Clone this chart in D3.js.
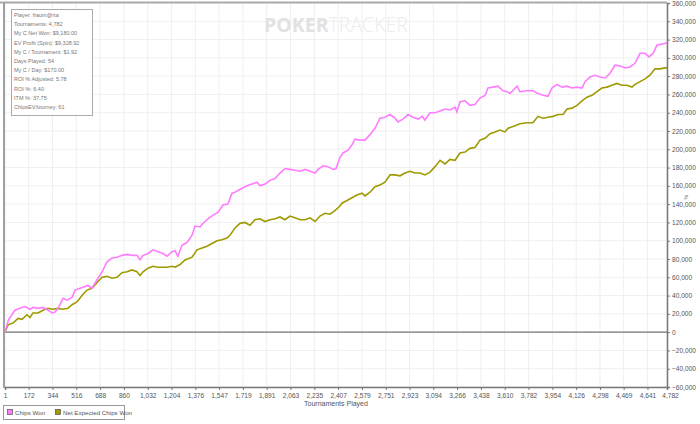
<!DOCTYPE html>
<html>
<head>
<meta charset="utf-8">
<script src="https://cdn.jsdelivr.net/npm/d3@7"></script>
<style>
  body { margin: 0; background: #fff; }
  svg { display: block; font-family: "Liberation Sans", Arial, sans-serif; }
</style>
</head>
<body>
<div id="chart"></div>
<script>
// tournament number / cumulative chips (thousands)
var chipsWonT = [1, 25, 37, 73, 109, 145, 182, 203, 239, 275, 312, 340, 362, 384, 420, 449, 485, 507, 543, 564, 600, 629, 665, 702, 738, 774, 810, 846, 882, 918, 954, 976, 998, 1034, 1070, 1106, 1142, 1171, 1207, 1229, 1250, 1279, 1315, 1352, 1373, 1409, 1431, 1467, 1503, 1539, 1575, 1611, 1640, 1662, 1684, 1720, 1749, 1785, 1821, 1843, 1879, 1915, 1951, 1987, 2023, 2059, 2095, 2132, 2168, 2204, 2240, 2262, 2298, 2334, 2370, 2392, 2420, 2442, 2478, 2507, 2529, 2565, 2601, 2637, 2673, 2709, 2745, 2782, 2818, 2839, 2875, 2911, 2948, 2984, 3013, 3034, 3070, 3107, 3143, 3179, 3215, 3251, 3265, 3287, 3323, 3359, 3395, 3431, 3468, 3489, 3525, 3561, 3598, 3627, 3648, 3699, 3720, 3771, 3814, 3850, 3887, 3923, 3951, 3987, 4024, 4060, 4096, 4132, 4168, 4190, 4226, 4262, 4298, 4334, 4370, 4406, 4443, 4479, 4515, 4551, 4587, 4623, 4652, 4681, 4710, 4746, 4767, 4782];
var chipsWon = [0, 13, 16, 24, 26, 28, 25, 27, 26, 27, 24, 21, 22, 26, 37, 35, 38, 46, 48, 49, 51, 48, 57, 66, 77, 81, 82, 84, 85, 84, 84, 79, 84, 86, 90, 88, 86, 83, 88, 89, 83, 95, 98, 106, 116, 115, 119, 124, 128, 131, 139, 140, 152, 153, 155, 158, 160, 162, 164, 160, 162, 166, 168, 174, 179, 178, 177, 176, 178, 176, 174, 178, 182, 181, 178, 179, 191, 196, 199, 205, 211, 210, 210, 216, 223, 234, 235, 238, 234, 230, 233, 238, 235, 233, 236, 232, 240, 240, 242, 244, 243, 246, 241, 252, 253, 248, 249, 256, 259, 267, 268, 269, 264, 263, 261, 269, 263, 264, 264, 261, 259, 258, 267, 271, 268, 269, 267, 268, 267, 274, 279, 281, 279, 278, 283, 292, 291, 289, 290, 294, 305, 305, 301, 305, 314, 315, 316, 316];
var netExpT = [1, 23, 59, 95, 124, 160, 182, 203, 239, 275, 312, 348, 384, 420, 456, 485, 521, 557, 593, 629, 665, 702, 738, 774, 810, 846, 882, 918, 954, 976, 998, 1034, 1070, 1106, 1142, 1171, 1207, 1229, 1265, 1301, 1352, 1388, 1424, 1460, 1496, 1532, 1568, 1604, 1626, 1662, 1698, 1734, 1770, 1806, 1843, 1879, 1915, 1951, 1987, 2023, 2059, 2095, 2132, 2168, 2204, 2240, 2276, 2312, 2348, 2384, 2420, 2434, 2471, 2507, 2543, 2579, 2601, 2637, 2673, 2709, 2745, 2782, 2818, 2854, 2890, 2926, 2962, 2998, 3034, 3070, 3107, 3143, 3179, 3215, 3251, 3287, 3323, 3359, 3395, 3431, 3468, 3504, 3540, 3576, 3612, 3634, 3670, 3720, 3771, 3814, 3850, 3887, 3923, 3959, 3995, 4031, 4060, 4096, 4132, 4168, 4204, 4240, 4276, 4312, 4348, 4384, 4420, 4456, 4493, 4529, 4551, 4587, 4623, 4659, 4695, 4731, 4767, 4782];
var netExp = [0, 8, 10, 15, 14, 19, 16, 21, 21, 24, 26, 25, 26, 25, 26, 30, 33, 40, 46, 48, 54, 60, 61, 59, 60, 65, 66, 68, 66, 62, 66, 70, 72, 71, 71, 71, 72, 71, 74, 79, 82, 90, 92, 94, 97, 100, 101, 103, 106, 114, 119, 120, 117, 123, 124, 121, 123, 124, 126, 123, 127, 125, 123, 123, 125, 121, 127, 130, 129, 133, 138, 141, 144, 147, 150, 152, 149, 153, 159, 161, 164, 172, 172, 171, 174, 176, 174, 174, 172, 175, 181, 188, 184, 189, 188, 196, 197, 201, 202, 210, 212, 217, 219, 221, 219, 223, 225, 228, 229, 229, 236, 234, 235, 236, 238, 238, 244, 245, 248, 253, 257, 259, 263, 267, 268, 270, 272, 270, 270, 268, 271, 274, 277, 281, 288, 288, 289, 289];

var xTicks = [1, 172, 344, 516, 688, 860, 1032, 1204, 1376, 1547, 1719, 1891, 2063, 2235, 2407, 2579, 2751, 2923, 3094, 3266, 3438, 3610, 3782, 3954, 4126, 4298, 4469, 4641, 4782];
var yTicks = d3.range(-60000, 360001, 20000);

var statLines = ["Player: fraum@rta", "Tournaments: 4,782", "My C Net Won: $9,180.00", "EV Profit (Spin): $9,328.92",
  "My C / Tournament: $1.92", "Days Played: 54", "My C / Day: $170.00", "ROI % Adjusted: 5.78",
  "ROI %: 6.40", "ITM %: 37.75", "ChipsEV/tourney: 61"];

var pink = "#ff7cff", olive = "#9e9a00";

var svg = d3.select("#chart").append("svg").attr("width", 700).attr("height", 424);

var x = d3.scaleLinear().domain([1, 4782]).range([5, 667]);
var y = d3.scaleLinear().domain([-60000, 360000]).range([387, 3]);

// grid
var grid = svg.append("g");
grid.selectAll(".vg").data(xTicks).enter().append("line")
  .attr("x1", d => x(d)).attr("x2", d => x(d)).attr("y1", 3).attr("y2", 387)
  .attr("stroke", "#efefef").attr("stroke-width", 1);
grid.selectAll(".hg").data(yTicks).enter().append("line")
  .attr("x1", 5).attr("x2", 667).attr("y1", d => y(d)).attr("y2", d => y(d))
  .attr("stroke", "#efefef").attr("stroke-width", 1);

// watermark
var wm = svg.append("text").attr("x", 336).attr("y", 32).attr("text-anchor", "middle")
  .style("font-family", "'Open Sans', sans-serif").style("font-size", "19.5px");
wm.append("tspan").attr("fill", "#e2e2e2").style("font-weight", "bold").text("POKER");
wm.append("tspan").attr("fill", "#ececec").style("font-weight", "300").text("TRACKER");

// borders
svg.append("line").attr("x1", 0).attr("x2", 667).attr("y1", 2.5).attr("y2", 2.5)
  .attr("stroke", "#aaa").attr("stroke-width", 2);
svg.append("line").attr("x1", 4).attr("x2", 4).attr("y1", 2).attr("y2", 388)
  .attr("stroke", "#a0a0a0").attr("stroke-width", 2);
svg.append("line").attr("x1", 5).attr("x2", 667).attr("y1", y(0)).attr("y2", y(0))
  .attr("stroke", "#777").attr("stroke-width", 1.2);

// lines
var line = d3.line().x(d => x(d[0])).y(d => y(d[1] * 1000));
svg.append("path").datum(netExpT.map((t, i) => [t, netExp[i]]))
  .attr("d", line).attr("fill", "none").attr("stroke", olive).attr("stroke-width", 1.6);
svg.append("path").datum(chipsWonT.map((t, i) => [t, chipsWon[i]]))
  .attr("d", line).attr("fill", "none").attr("stroke", pink).attr("stroke-width", 1.6);

// axes
var yAxis = svg.append("g").attr("transform", "translate(667,0)")
  .call(d3.axisRight(y).tickValues(yTicks).tickFormat(d3.format(",")).tickSize(3).tickPadding(2));
var xAxis = svg.append("g").attr("transform", "translate(0,387)")
  .call(d3.axisBottom(x).tickValues(xTicks).tickFormat(d3.format(",")).tickSize(3).tickPadding(3));
[yAxis, xAxis].forEach(function (a) {
  a.select(".domain").attr("stroke", "#777").attr("stroke-width", 1.5);
  a.selectAll(".tick line").attr("stroke", "#777");
  a.selectAll("text").attr("fill", "#555").style("font-size", "6.6px")
    .style("font-family", "'Liberation Sans', Arial, sans-serif");
});
// last label sits a bit to the right, as in the original
xAxis.selectAll(".tick").filter(d => d === 4782).select("text").attr("dx", 3);

svg.append("text").attr("x", 336).attr("y", 406).attr("text-anchor", "middle")
  .attr("fill", "#555").style("font-size", "7px").text("Tournaments Played");
svg.append("text").attr("transform", "translate(684,195) rotate(90)")
  .attr("fill", "#555").style("font-size", "5px").text("%");

// legend
var lg = svg.append("g");
lg.append("rect").attr("x", 3.5).attr("y", 405.5).attr("width", 121).attr("height", 14)
  .attr("fill", "#fff").attr("stroke", "#999");
var items = [["Chips Won", pink, 7], ["Net Expected Chips Won", olive, 55]];
items.forEach(function (it) {
  lg.append("rect").attr("x", it[2] + 0.5).attr("y", 409.5).attr("width", 5).attr("height", 5)
    .attr("fill", it[1]).attr("stroke", "#555").attr("stroke-width", 0.7);
  lg.append("text").attr("x", it[2] + 8).attr("y", 414.5).attr("fill", "#555")
    .style("font-size", "6.2px").text(it[0]);
});

// stats box
var sb = svg.append("g");
sb.append("rect").attr("x", 11.5).attr("y", 9.5).attr("width", 81).attr("height", 106)
  .attr("fill", "#fff").attr("stroke", "#aaa");
sb.selectAll("text").data(statLines).enter().append("text")
  .attr("x", 14).attr("y", (d, i) => 17 + i * 9.2)
  .attr("fill", "#777").style("font-size", "5.5px")
  .text(d => d);
</script>
</body>
</html>
